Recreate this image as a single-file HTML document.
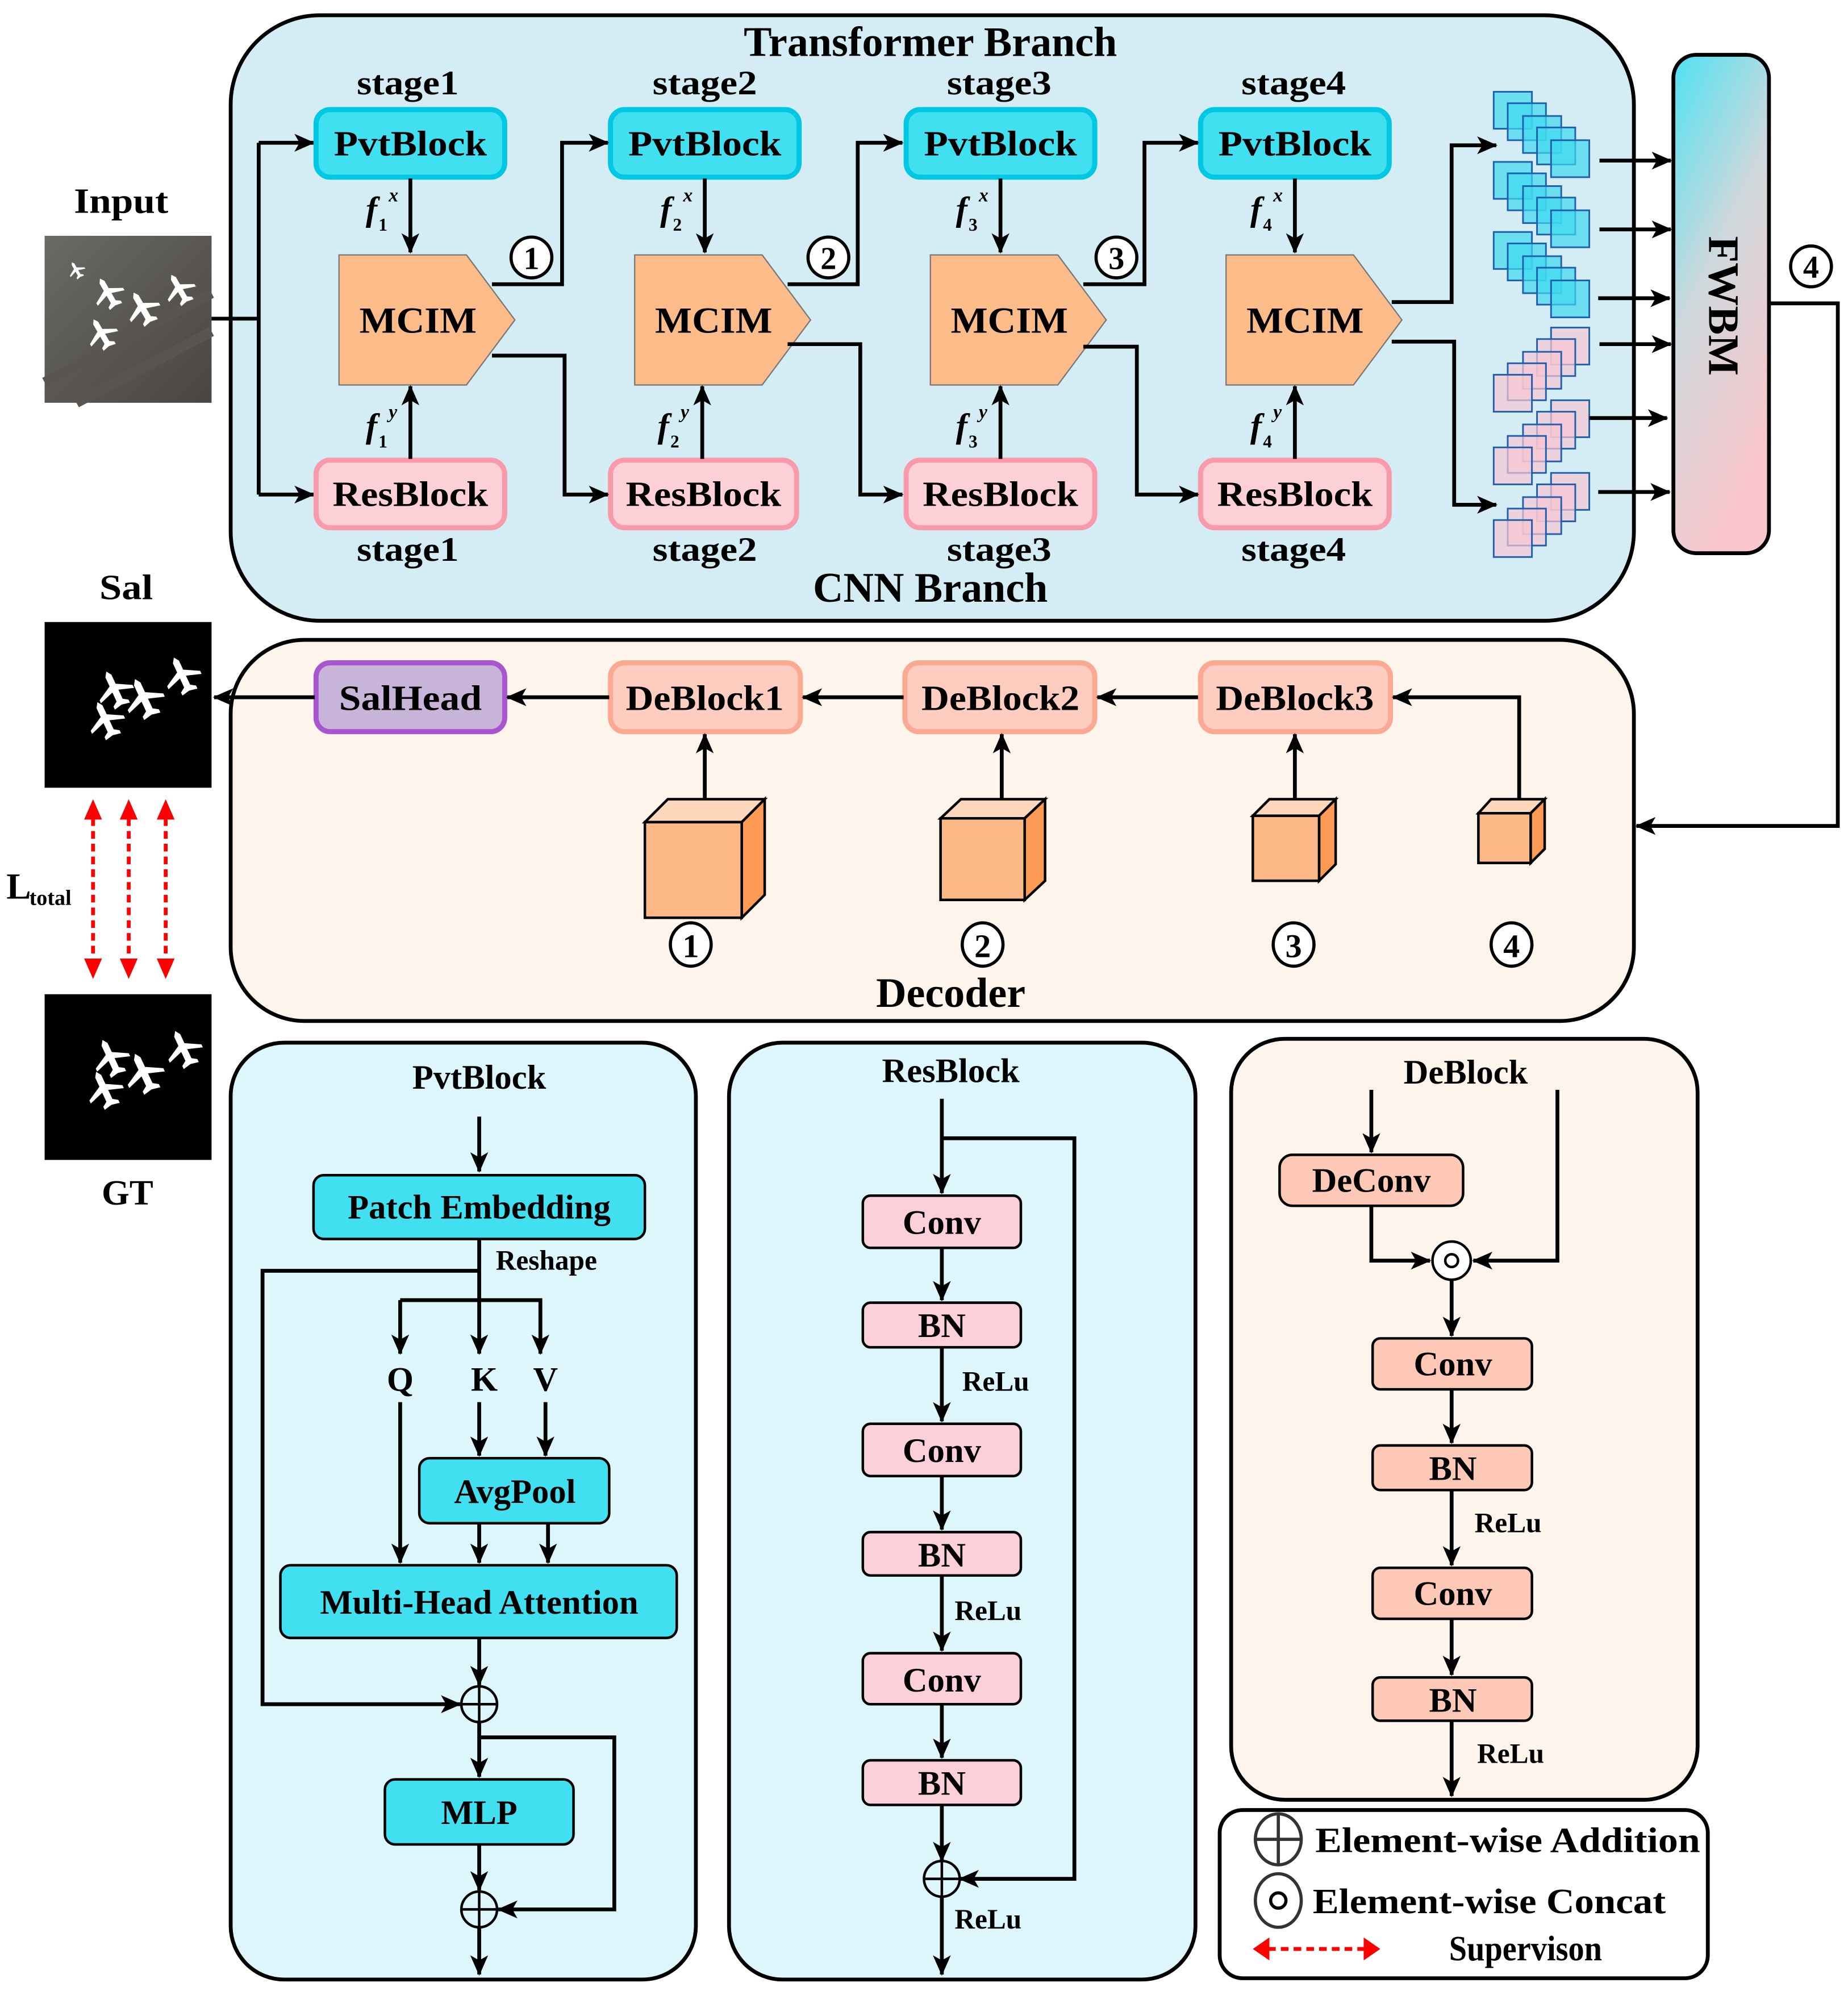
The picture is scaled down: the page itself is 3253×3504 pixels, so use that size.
<!DOCTYPE html>
<html><head><meta charset="utf-8"><style>
html,body{margin:0;padding:0;background:#fff}
svg{display:block}
text{font-family:"Liberation Serif",serif;font-weight:bold;fill:#000}
</style></head><body>
<svg width="3253" height="3504" viewBox="0 0 1450 1562" preserveAspectRatio="none" xmlns="http://www.w3.org/2000/svg">
<defs>
<marker id="a" markerUnits="userSpaceOnUse" markerWidth="16" markerHeight="14" refX="15" refY="7" orient="auto"><path d="M0,0 L16,7 L0,14 L4,7Z" fill="#000"/></marker>
<linearGradient id="fw" x1="0" y1="0" x2="0.4" y2="1"><stop offset="0" stop-color="#4fe2f2"/><stop offset="0.5" stop-color="#cfd8dc"/><stop offset="1" stop-color="#f8c6cc"/></linearGradient>
<linearGradient id="inp" x1="0" y1="0" x2="1" y2="1"><stop offset="0" stop-color="#6a6a66"/><stop offset="1" stop-color="#4a4540"/></linearGradient>
<path id="pl" d="M0,-12 L2,-9 L2,-3 L11,2 L11,4 L2,1 L2,7 L5,9 L5,11 L0,10 L-5,11 L-5,9 L-2,7 L-2,1 L-11,4 L-11,2 L-2,-3 L-2,-9Z" fill="#fff"/>
<g id="bsq"><rect width="30" height="29" fill="#3fd8ee" fill-opacity="0.7" stroke="#1f5fb0" stroke-width="1.3"/></g>
<g id="psq"><rect width="30" height="29" fill="#f6c6d2" fill-opacity="0.7" stroke="#1f5fb0" stroke-width="1.3"/></g>
</defs>

<rect x="181" y="12" width="1101" height="475" rx="70" fill="#d4edf4" stroke="#000" stroke-width="3"/>
<text x="730" y="44" font-size="33" text-anchor="middle">Transformer Branch</text>
<text x="730" y="472" font-size="33" text-anchor="middle">CNN Branch</text>

<text x="95" y="167" font-size="28" text-anchor="middle" textLength="74" lengthAdjust="spacingAndGlyphs">Input</text>
<rect x="35" y="185" width="131" height="131" fill="url(#inp)"/>
<path d="M35,300 L166,230 M60,316 L166,260" stroke="#5a5550" stroke-width="8"/>
<use href="#pl" transform="translate(85,230) rotate(-30) scale(1.1)"/>
<use href="#pl" transform="translate(112,242) rotate(-30) scale(1.2)"/>
<use href="#pl" transform="translate(141,227) rotate(-30) scale(1.1)"/>
<use href="#pl" transform="translate(80,262) rotate(-30) scale(1.1)"/>
<use href="#pl" transform="translate(60,212) rotate(-30) scale(0.6)"/>
<path d="M166,250 H203 M203,112 V388" fill="none" stroke="#000" stroke-width="3"/>
<path d="M203,112 H246" stroke="#000" stroke-width="3" marker-end="url(#a)"/>
<path d="M203,388 H246" stroke="#000" stroke-width="3" marker-end="url(#a)"/>

<text x="320" y="74" font-size="27" text-anchor="middle" textLength="80" lengthAdjust="spacingAndGlyphs">stage1</text>
<text x="320" y="440" font-size="27" text-anchor="middle" textLength="80" lengthAdjust="spacingAndGlyphs">stage1</text>
<text x="553" y="74" font-size="27" text-anchor="middle" textLength="82" lengthAdjust="spacingAndGlyphs">stage2</text>
<text x="553" y="440" font-size="27" text-anchor="middle" textLength="82" lengthAdjust="spacingAndGlyphs">stage2</text>
<text x="784" y="74" font-size="27" text-anchor="middle" textLength="82" lengthAdjust="spacingAndGlyphs">stage3</text>
<text x="784" y="440" font-size="27" text-anchor="middle" textLength="82" lengthAdjust="spacingAndGlyphs">stage3</text>
<text x="1015" y="74" font-size="27" text-anchor="middle" textLength="82" lengthAdjust="spacingAndGlyphs">stage4</text>
<text x="1015" y="440" font-size="27" text-anchor="middle" textLength="82" lengthAdjust="spacingAndGlyphs">stage4</text>

<g>
<rect x="248" y="86" width="148" height="53" rx="11" fill="#40e0f0" stroke="#00c8e2" stroke-width="4"/>
<text x="322" y="122" font-size="28" text-anchor="middle" textLength="120" lengthAdjust="spacingAndGlyphs">PvtBlock</text>
<rect x="248" y="361" width="148" height="53" rx="11" fill="#fdd0d8" stroke="#f89aaa" stroke-width="4"/>
<text x="322" y="397" font-size="28" text-anchor="middle" textLength="122" lengthAdjust="spacingAndGlyphs">ResBlock</text>
<path d="M266,200 H366 L404,251 L366,302 H266Z" fill="#fbbc8a" stroke="#777" stroke-width="1"/>
<text x="328" y="261" font-size="29" text-anchor="middle" textLength="92" lengthAdjust="spacingAndGlyphs">MCIM</text>
<path d="M322,140 V198" stroke="#000" stroke-width="3" marker-end="url(#a)"/>
<path d="M322,360 V303" stroke="#000" stroke-width="3" marker-end="url(#a)"/>
<text x="287" y="173" font-size="27" font-style="italic" font-weight="normal">f</text><text x="297" y="181" font-size="14" font-weight="normal">1</text><text x="305" y="158" font-size="15" font-style="italic" font-weight="normal">x</text>
<text x="287" y="343" font-size="27" font-style="italic" font-weight="normal">f</text><text x="297" y="351" font-size="14" font-weight="normal">1</text><text x="305" y="328" font-size="15" font-style="italic" font-weight="normal">y</text>
</g>
<g transform="translate(231,0)">
<rect x="248" y="86" width="148" height="53" rx="11" fill="#40e0f0" stroke="#00c8e2" stroke-width="4"/>
<text x="322" y="122" font-size="28" text-anchor="middle" textLength="120" lengthAdjust="spacingAndGlyphs">PvtBlock</text>
<rect x="248" y="361" width="146" height="53" rx="11" fill="#fdd0d8" stroke="#f89aaa" stroke-width="4"/>
<text x="321" y="397" font-size="28" text-anchor="middle" textLength="122" lengthAdjust="spacingAndGlyphs">ResBlock</text>
<path d="M267,200 H367 L405,251 L367,302 H267Z" fill="#fbbc8a" stroke="#777" stroke-width="1"/>
<text x="329" y="261" font-size="29" text-anchor="middle" textLength="92" lengthAdjust="spacingAndGlyphs">MCIM</text>
<path d="M322,140 V198" stroke="#000" stroke-width="3" marker-end="url(#a)"/>
<path d="M320,360 V303" stroke="#000" stroke-width="3" marker-end="url(#a)"/>
<text x="287" y="173" font-size="27" font-style="italic" font-weight="normal">f</text><text x="297" y="181" font-size="14" font-weight="normal">2</text><text x="305" y="158" font-size="15" font-style="italic" font-weight="normal">x</text>
<text x="285" y="343" font-size="27" font-style="italic" font-weight="normal">f</text><text x="295" y="351" font-size="14" font-weight="normal">2</text><text x="303" y="328" font-size="15" font-style="italic" font-weight="normal">y</text>
</g>
<g transform="translate(463,0)">
<rect x="248" y="86" width="148" height="53" rx="11" fill="#40e0f0" stroke="#00c8e2" stroke-width="4"/>
<text x="322" y="122" font-size="28" text-anchor="middle" textLength="120" lengthAdjust="spacingAndGlyphs">PvtBlock</text>
<rect x="248" y="361" width="148" height="53" rx="11" fill="#fdd0d8" stroke="#f89aaa" stroke-width="4"/>
<text x="322" y="397" font-size="28" text-anchor="middle" textLength="122" lengthAdjust="spacingAndGlyphs">ResBlock</text>
<path d="M267,200 H367 L405,251 L367,302 H267Z" fill="#fbbc8a" stroke="#777" stroke-width="1"/>
<text x="329" y="261" font-size="29" text-anchor="middle" textLength="92" lengthAdjust="spacingAndGlyphs">MCIM</text>
<path d="M322,140 V198" stroke="#000" stroke-width="3" marker-end="url(#a)"/>
<path d="M322,360 V303" stroke="#000" stroke-width="3" marker-end="url(#a)"/>
<text x="287" y="173" font-size="27" font-style="italic" font-weight="normal">f</text><text x="297" y="181" font-size="14" font-weight="normal">3</text><text x="305" y="158" font-size="15" font-style="italic" font-weight="normal">x</text>
<text x="287" y="343" font-size="27" font-style="italic" font-weight="normal">f</text><text x="297" y="351" font-size="14" font-weight="normal">3</text><text x="305" y="328" font-size="15" font-style="italic" font-weight="normal">y</text>
</g>
<g transform="translate(694,0)">
<rect x="248" y="86" width="148" height="53" rx="11" fill="#40e0f0" stroke="#00c8e2" stroke-width="4"/>
<text x="322" y="122" font-size="28" text-anchor="middle" textLength="120" lengthAdjust="spacingAndGlyphs">PvtBlock</text>
<rect x="248" y="361" width="148" height="53" rx="11" fill="#fdd0d8" stroke="#f89aaa" stroke-width="4"/>
<text x="322" y="397" font-size="28" text-anchor="middle" textLength="122" lengthAdjust="spacingAndGlyphs">ResBlock</text>
<path d="M268,200 H368 L406,251 L368,302 H268Z" fill="#fbbc8a" stroke="#777" stroke-width="1"/>
<text x="330" y="261" font-size="29" text-anchor="middle" textLength="92" lengthAdjust="spacingAndGlyphs">MCIM</text>
<path d="M322,140 V198" stroke="#000" stroke-width="3" marker-end="url(#a)"/>
<path d="M322,360 V303" stroke="#000" stroke-width="3" marker-end="url(#a)"/>
<text x="287" y="173" font-size="27" font-style="italic" font-weight="normal">f</text><text x="297" y="181" font-size="14" font-weight="normal">4</text><text x="305" y="158" font-size="15" font-style="italic" font-weight="normal">x</text>
<text x="287" y="343" font-size="27" font-style="italic" font-weight="normal">f</text><text x="297" y="351" font-size="14" font-weight="normal">4</text><text x="305" y="328" font-size="15" font-style="italic" font-weight="normal">y</text>
</g>

<g fill="none" stroke="#000" stroke-width="3">
<path d="M386,223 H441 V112 H477" marker-end="url(#a)"/>
<path d="M386,279 H443 V388 H477" marker-end="url(#a)"/>
<path d="M618,223 H673 V112 H708" marker-end="url(#a)"/>
<path d="M618,270 H675 V388 H708" marker-end="url(#a)"/>
<path d="M850,223 H898 V112 H940" marker-end="url(#a)"/>
<path d="M850,272 H892 V388 H940" marker-end="url(#a)"/>
<path d="M1092,237 H1139 V114 H1174" marker-end="url(#a)"/>
<path d="M1092,268 H1141 V396 H1174" marker-end="url(#a)"/>
</g>
<g fill="#fff" stroke="#000" stroke-width="2.5">
<circle cx="417" cy="202" r="16"/><circle cx="650" cy="202" r="16"/><circle cx="876" cy="202" r="16"/><circle cx="1421" cy="209" r="16"/>
</g>
<g font-size="25" text-anchor="middle">
<text x="417" y="211">1</text><text x="650" y="211">2</text><text x="876" y="211">3</text><text x="1421" y="218">4</text>
</g>

<g>
<use href="#bsq" x="1172" y="72"/><use href="#bsq" x="1183" y="81"/><use href="#bsq" x="1195" y="91"/><use href="#bsq" x="1206" y="100"/><use href="#bsq" x="1217" y="110"/>
<use href="#bsq" x="1172" y="127"/><use href="#bsq" x="1183" y="136"/><use href="#bsq" x="1195" y="146"/><use href="#bsq" x="1206" y="155"/><use href="#bsq" x="1217" y="165"/>
<use href="#bsq" x="1172" y="182"/><use href="#bsq" x="1183" y="191"/><use href="#bsq" x="1195" y="201"/><use href="#bsq" x="1206" y="210"/><use href="#bsq" x="1217" y="220"/>
<use href="#psq" x="1217" y="257"/><use href="#psq" x="1206" y="266"/><use href="#psq" x="1195" y="276"/><use href="#psq" x="1183" y="285"/><use href="#psq" x="1172" y="294"/>
<use href="#psq" x="1217" y="314"/><use href="#psq" x="1206" y="323"/><use href="#psq" x="1195" y="333"/><use href="#psq" x="1183" y="342"/><use href="#psq" x="1172" y="351"/>
<use href="#psq" x="1217" y="371"/><use href="#psq" x="1206" y="380"/><use href="#psq" x="1195" y="390"/><use href="#psq" x="1183" y="399"/><use href="#psq" x="1172" y="408"/>
</g>
<g stroke="#000" stroke-width="3">
<path d="M1255,126 H1311" marker-end="url(#a)"/>
<path d="M1255,180 H1311" marker-end="url(#a)"/>
<path d="M1254,234 H1310" marker-end="url(#a)"/>
<path d="M1255,270 H1311" marker-end="url(#a)"/>
<path d="M1247,328 H1308" marker-end="url(#a)"/>
<path d="M1254,386 H1310" marker-end="url(#a)"/>
</g>

<rect x="1313" y="43" width="75" height="391" rx="18" fill="url(#fw)" stroke="#000" stroke-width="3"/>
<text transform="translate(1341,240) rotate(90)" font-size="34" text-anchor="middle">FWBM</text>
<path d="M1388,238 H1442 V648 H1284" fill="none" stroke="#000" stroke-width="3" marker-end="url(#a)"/>

<text x="99" y="470" font-size="28" text-anchor="middle" textLength="42" lengthAdjust="spacingAndGlyphs">Sal</text>
<rect x="35" y="488" width="131" height="130" fill="#000"/>
<use href="#pl" transform="translate(90,541) rotate(-25) scale(1.3)"/>
<use href="#pl" transform="translate(113,548) rotate(-25) scale(1.4)"/>
<use href="#pl" transform="translate(143,530) rotate(-25) scale(1.3)"/>
<use href="#pl" transform="translate(83,565) rotate(-25) scale(1.3)"/>
<rect x="35" y="780" width="131" height="130" fill="#000"/>
<use href="#pl" transform="translate(87,830) rotate(-25) scale(1.3)"/>
<use href="#pl" transform="translate(113,842) rotate(-25) scale(1.4)"/>
<use href="#pl" transform="translate(144,823) rotate(-25) scale(1.3)"/>
<use href="#pl" transform="translate(82,855) rotate(-25) scale(1.3)"/>
<text x="100" y="945" font-size="28" text-anchor="middle">GT</text>
<text x="5" y="705" font-size="29" font-weight="normal">L</text><text x="23" y="710" font-size="17" font-weight="normal">total</text>
<g stroke="#f00" stroke-width="3" stroke-dasharray="6,4">
<path d="M73,642 V752"/><path d="M101,642 V752"/><path d="M130,642 V752"/>
</g>
<g fill="#f00"><path d="M66,643 L80,643 L73,627Z M94,643 L108,643 L101,627Z M123,643 L137,643 L130,627Z M66,752 L80,752 L73,768Z M94,752 L108,752 L101,768Z M123,752 L137,752 L130,768Z"/></g>

<rect x="181" y="502" width="1101" height="299" rx="58" fill="#fdf4eb" stroke="#000" stroke-width="3"/>
<text x="746" y="790" font-size="33" text-anchor="middle">Decoder</text>
<rect x="248" y="520" width="148" height="54" rx="11" fill="#c8b4d8" stroke="#a855d0" stroke-width="4"/>
<text x="322" y="557" font-size="28" text-anchor="middle" textLength="112" lengthAdjust="spacingAndGlyphs">SalHead</text>
<g fill="#fdcdc0" stroke="#fca892" stroke-width="4">
<rect x="479" y="520" width="149" height="54" rx="11"/><rect x="710" y="520" width="149" height="54" rx="11"/><rect x="942" y="520" width="149" height="54" rx="11"/>
</g>
<text x="553" y="557" font-size="28" text-anchor="middle" textLength="124" lengthAdjust="spacingAndGlyphs">DeBlock1</text>
<text x="785" y="557" font-size="28" text-anchor="middle" textLength="124" lengthAdjust="spacingAndGlyphs">DeBlock2</text>
<text x="1016" y="557" font-size="28" text-anchor="middle" textLength="124" lengthAdjust="spacingAndGlyphs">DeBlock3</text>
<g stroke="#000" stroke-width="3" fill="none">
<path d="M247,547 H168" marker-end="url(#a)"/>
<path d="M478,547 H398" marker-end="url(#a)"/>
<path d="M709,547 H630" marker-end="url(#a)"/>
<path d="M940,547 H861" marker-end="url(#a)"/>
<path d="M1192,628 V547 H1093" marker-end="url(#a)"/>
<path d="M553,627 V576" marker-end="url(#a)"/>
<path d="M786,627 V576" marker-end="url(#a)"/>
<path d="M1016,627 V576" marker-end="url(#a)"/>
</g>
<g stroke="#000" stroke-width="2">
<path d="M506,645 L524,627 H600 L582,645Z" fill="#fdd7bb"/><path d="M582,645 L600,627 V702 L582,720Z" fill="#fd9a55"/><rect x="506" y="645" width="76" height="75" fill="#fdb888"/>
<path d="M738,642 L754,627 H820 L804,642Z" fill="#fdd7bb"/><path d="M804,642 L820,627 V691 L804,706Z" fill="#fd9a55"/><rect x="738" y="642" width="66" height="64" fill="#fdb888"/>
<path d="M983,640 L996,627 H1048 L1035,640Z" fill="#fdd7bb"/><path d="M1035,640 L1048,627 V678 L1035,691Z" fill="#fd9a55"/><rect x="983" y="640" width="52" height="51" fill="#fdb888"/>
<path d="M1160,638 L1170,627 H1212 L1201,638Z" fill="#fdd7bb"/><path d="M1201,638 L1212,627 V666 L1201,677Z" fill="#fd9a55"/><rect x="1160" y="638" width="41" height="39" fill="#fdb888"/>
</g>
<g fill="#fff" stroke="#000" stroke-width="2.5">
<ellipse cx="542" cy="741" rx="16" ry="17"/><ellipse cx="771" cy="741" rx="16" ry="17"/><ellipse cx="1015" cy="741" rx="16" ry="17"/><ellipse cx="1186" cy="741" rx="16" ry="17"/>
</g>
<g font-size="26" text-anchor="middle">
<text x="542" y="751">1</text><text x="771" y="751">2</text><text x="1015" y="751">3</text><text x="1186" y="751">4</text>
</g>

<rect x="181" y="818" width="365" height="735" rx="42" fill="#dcf6fb" stroke="#000" stroke-width="3"/>
<rect x="572" y="818" width="366" height="735" rx="42" fill="#dcf6fb" stroke="#000" stroke-width="3"/>
<rect x="966" y="815" width="366" height="597" rx="42" fill="#fdf4eb" stroke="#000" stroke-width="3"/>
<rect x="957" y="1420" width="383" height="132" rx="18" fill="#fff" stroke="#000" stroke-width="3"/>

<g font-size="27">
<text x="376" y="854" text-anchor="middle">PvtBlock</text>
<text x="746" y="849" text-anchor="middle">ResBlock</text>
<text x="1150" y="850" text-anchor="middle">DeBlock</text>
</g>

<g stroke="#000" stroke-width="2">
<rect x="246" y="922" width="260" height="50" rx="8" fill="#40e0f0"/>
<rect x="329" y="1144" width="149" height="51" rx="8" fill="#40e0f0"/>
<rect x="220" y="1228" width="311" height="57" rx="8" fill="#40e0f0"/>
<rect x="302" y="1396" width="148" height="51" rx="8" fill="#40e0f0"/>
</g>
<g font-size="27" text-anchor="middle">
<text x="376" y="956">Patch Embedding</text>
<text x="404" y="1179">AvgPool</text>
<text x="376" y="1266">Multi-Head Attention</text>
<text x="376" y="1431">MLP</text>
<text x="314" y="1091">Q</text><text x="380" y="1091">K</text><text x="428" y="1091">V</text>
</g>
<text x="389" y="996" font-size="22">Reshape</text>
<g stroke="#000" stroke-width="3" fill="none">
<path d="M376,876 V919" marker-end="url(#a)"/>
<path d="M376,972 V1062" marker-end="url(#a)"/>
<path d="M376,997 H206 V1337 H361" marker-end="url(#a)"/>
<path d="M314,1020 H424 V1062" marker-end="url(#a)"/>
<path d="M314,1020 V1062" marker-end="url(#a)"/>
<path d="M314,1100 V1226" marker-end="url(#a)"/>
<path d="M376,1100 V1142" marker-end="url(#a)"/>
<path d="M428,1100 V1142" marker-end="url(#a)"/>
<path d="M376,1195 V1226" marker-end="url(#a)"/>
<path d="M430,1195 V1226" marker-end="url(#a)"/>
<path d="M376,1285 V1322" marker-end="url(#a)"/>
<path d="M376,1351 V1394" marker-end="url(#a)"/>
<path d="M376,1363 H482 V1498 H391" marker-end="url(#a)"/>
<path d="M376,1447 V1483" marker-end="url(#a)"/>
<path d="M376,1512 V1549" marker-end="url(#a)"/>
</g>
<g stroke="#000" stroke-width="2" fill="none">
<circle cx="376" cy="1337" r="14"/><path d="M362,1337 H390 M376,1323 V1351"/>
<circle cx="376" cy="1498" r="14"/><path d="M362,1498 H390 M376,1484 V1512"/>
</g>

<g stroke="#000" stroke-width="2" fill="#fcd0da">
<rect x="677" y="938" width="124" height="41" rx="6"/>
<rect x="677" y="1022" width="124" height="35" rx="6"/>
<rect x="677" y="1117" width="124" height="41" rx="6"/>
<rect x="677" y="1202" width="124" height="34" rx="6"/>
<rect x="677" y="1297" width="124" height="40" rx="6"/>
<rect x="677" y="1381" width="124" height="35" rx="6"/>
</g>
<g font-size="27" text-anchor="middle">
<text x="739" y="968">Conv</text><text x="739" y="1049">BN</text>
<text x="739" y="1147">Conv</text><text x="739" y="1229">BN</text>
<text x="739" y="1327">Conv</text><text x="739" y="1408">BN</text>
</g>
<g font-size="22"><text x="755" y="1091">ReLu</text><text x="749" y="1271">ReLu</text><text x="749" y="1513">ReLu</text></g>
<g stroke="#000" stroke-width="3" fill="none">
<path d="M739,862 V936" marker-end="url(#a)"/>
<path d="M739,893 H843 V1474 H753" marker-end="url(#a)"/>
<path d="M739,979 V1020" marker-end="url(#a)"/>
<path d="M739,1057 V1115" marker-end="url(#a)"/>
<path d="M739,1158 V1200" marker-end="url(#a)"/>
<path d="M739,1236 V1295" marker-end="url(#a)"/>
<path d="M739,1337 V1379" marker-end="url(#a)"/>
<path d="M739,1416 V1460" marker-end="url(#a)"/>
<path d="M739,1488 V1549" marker-end="url(#a)"/>
</g>
<g stroke="#000" stroke-width="2" fill="none"><circle cx="739" cy="1474" r="14"/><path d="M725,1474 H753 M739,1460 V1488"/></g>

<g stroke="#000" stroke-width="2" fill="#fdc9b6">
<rect x="1004" y="906" width="144" height="40" rx="10"/>
<rect x="1077" y="1050" width="125" height="40" rx="6"/>
<rect x="1077" y="1134" width="125" height="35" rx="6"/>
<rect x="1077" y="1230" width="125" height="40" rx="6"/>
<rect x="1077" y="1316" width="125" height="34" rx="6"/>
</g>
<g font-size="27" text-anchor="middle">
<text x="1076" y="935">DeConv</text>
<text x="1140" y="1079">Conv</text><text x="1140" y="1161">BN</text>
<text x="1140" y="1259">Conv</text><text x="1140" y="1343">BN</text>
</g>
<g font-size="22"><text x="1157" y="1202">ReLu</text><text x="1159" y="1383">ReLu</text></g>
<g stroke="#000" stroke-width="3" fill="none">
<path d="M1076,855 V904" marker-end="url(#a)"/>
<path d="M1222,855 V989 H1156" marker-end="url(#a)"/>
<path d="M1076,946 V989 H1122" marker-end="url(#a)"/>
<path d="M1139,1004 V1048" marker-end="url(#a)"/>
<path d="M1139,1090 V1132" marker-end="url(#a)"/>
<path d="M1139,1169 V1228" marker-end="url(#a)"/>
<path d="M1139,1270 V1314" marker-end="url(#a)"/>
<path d="M1139,1350 V1409" marker-end="url(#a)"/>
</g>
<g stroke="#000" stroke-width="2" fill="#fff"><circle cx="1139" cy="989" r="15"/><circle cx="1139" cy="989" r="5"/></g>

<g stroke="#333" stroke-width="2.5" fill="none">
<ellipse cx="1003" cy="1443" rx="18" ry="20"/><path d="M985,1443 H1021 M1003,1423 V1463"/>
<ellipse cx="1003" cy="1491" rx="18" ry="21"/><circle cx="1003" cy="1491" r="6" stroke="#000"/>
</g>
<text x="1032" y="1453" font-size="28" textLength="302" lengthAdjust="spacingAndGlyphs">Element-wise Addition</text>
<text x="1030" y="1501" font-size="28" textLength="277" lengthAdjust="spacingAndGlyphs">Element-wise Concat</text>
<path d="M995,1529 H1070" stroke="#f00" stroke-width="3" stroke-dasharray="6,4"/>
<path d="M983,1529 L996,1520 V1538Z M1083,1529 L1070,1520 V1538Z" fill="#f00"/>
<text x="1137" y="1538" font-size="28" textLength="120" lengthAdjust="spacingAndGlyphs">Supervison</text>
</svg>
</body></html>
